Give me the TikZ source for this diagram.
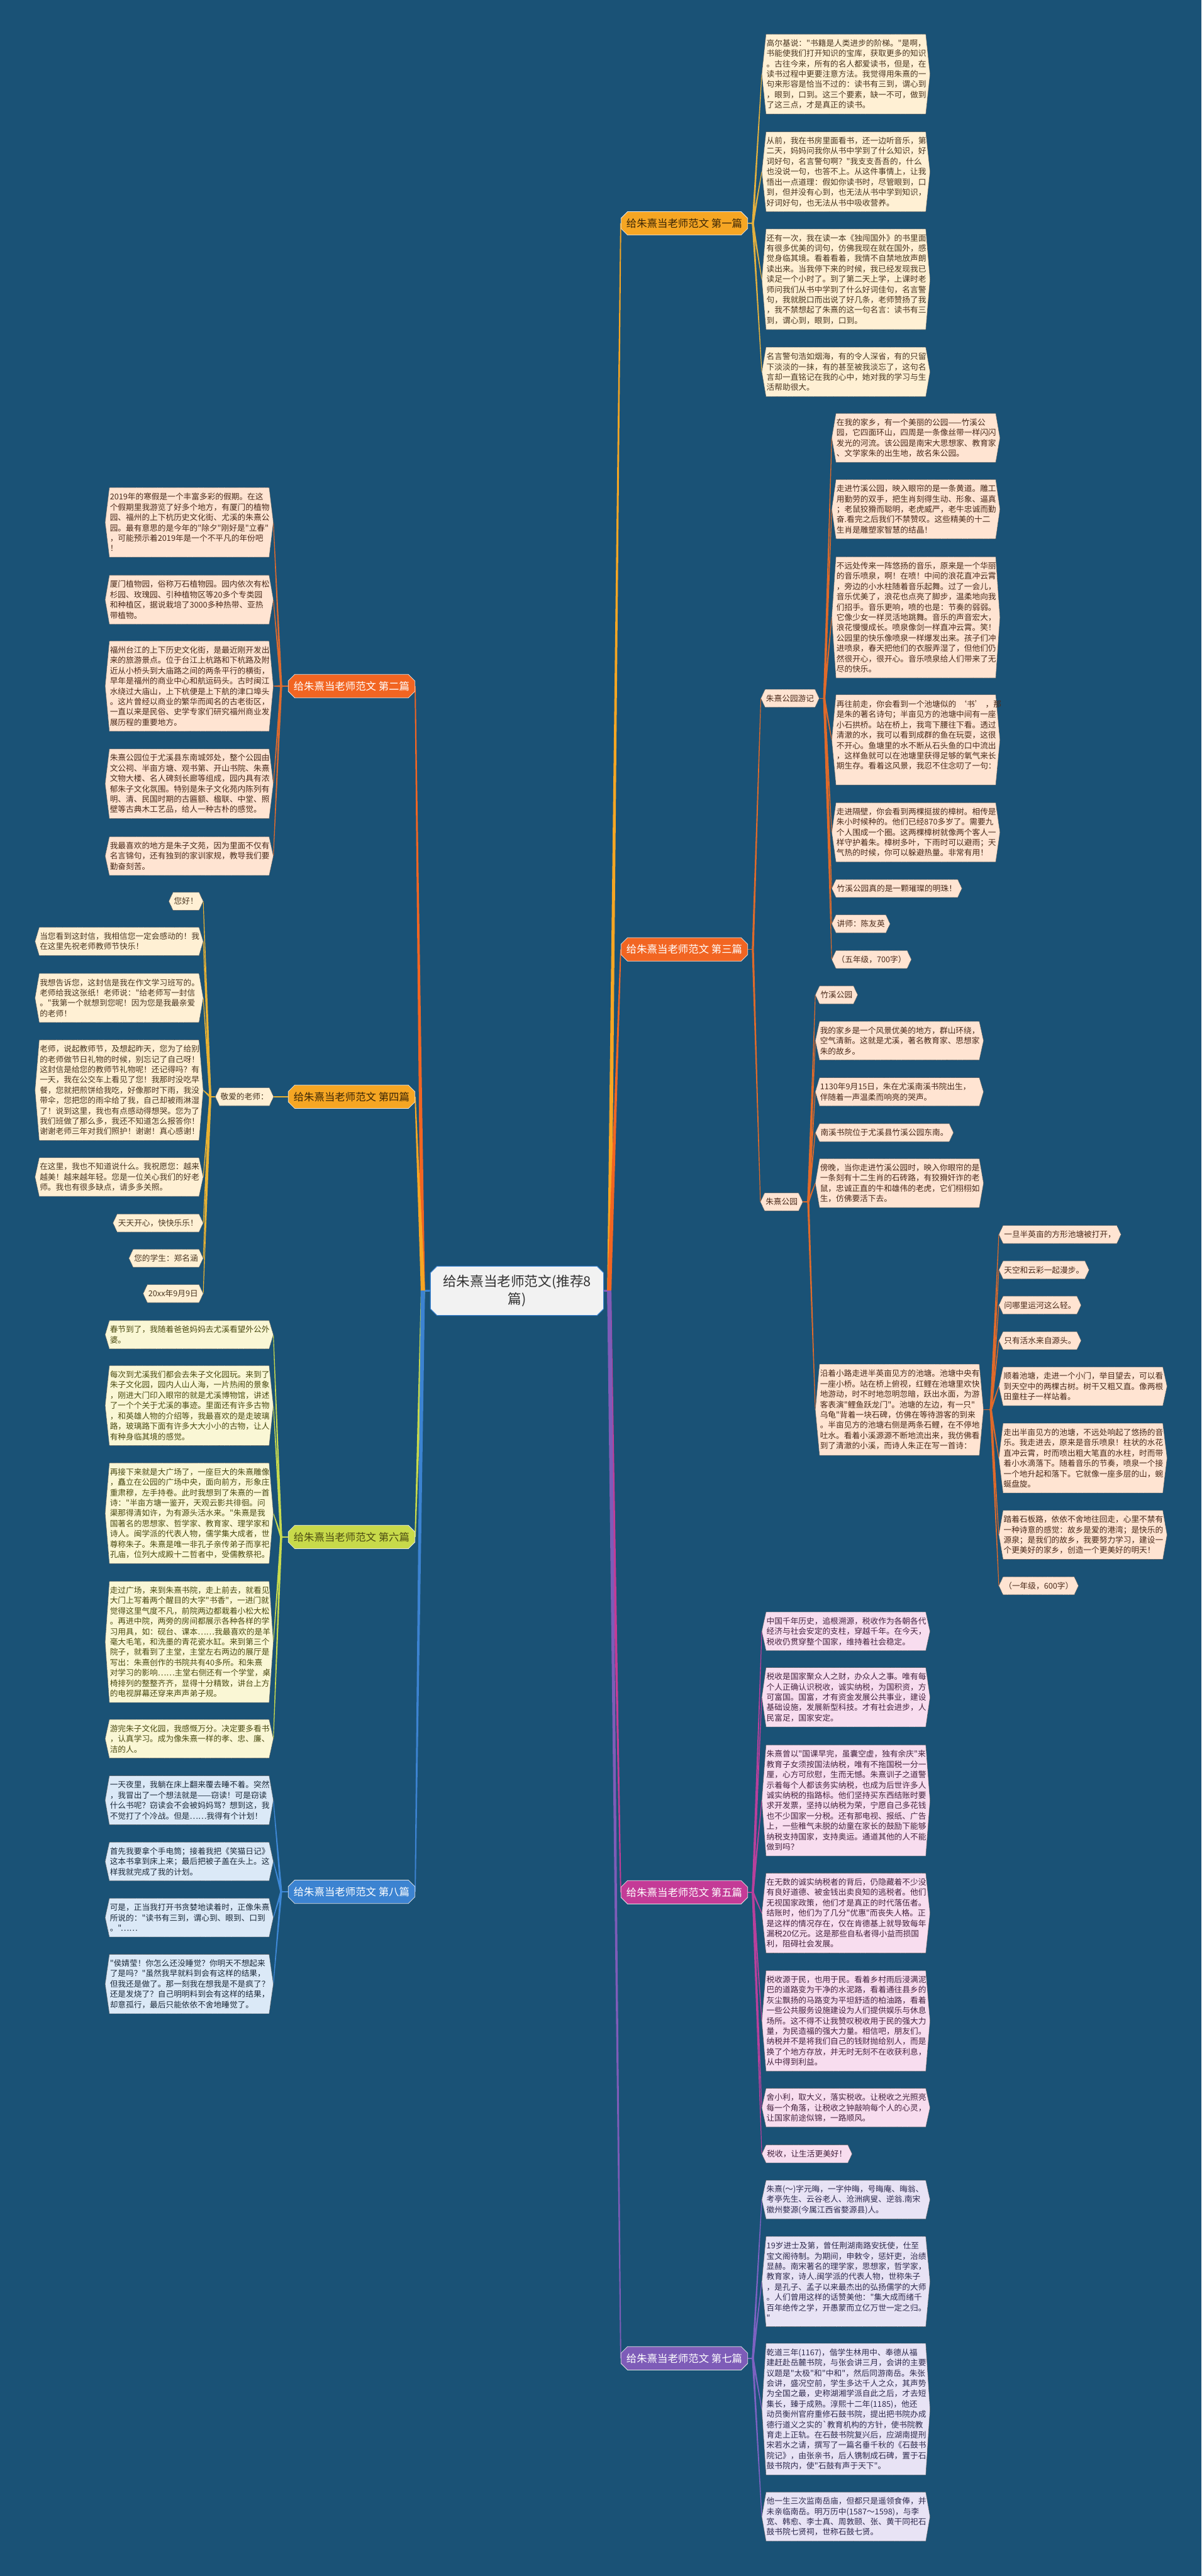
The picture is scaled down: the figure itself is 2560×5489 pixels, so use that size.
\documentclass[tikz,border=0pt]{standalone}
\usepackage{fontspec}
\newfontfamily\zh{Noto Sans CJK SC}
\usetikzlibrary{backgrounds,calc,shapes.misc}
\definecolor{bgc}{HTML}{1A5276}
\definecolor{amber}{HTML}{F6A623}
\definecolor{orng}{HTML}{F26522}
\definecolor{mag}{HTML}{C43B97}
\definecolor{ygrn}{HTML}{C8DA4A}
\definecolor{purp}{HTML}{7E5CB8}
\definecolor{blu}{HTML}{3C83D1}
\definecolor{ln1}{HTML}{E3B03E}
\definecolor{ln2}{HTML}{DD6A2E}
\definecolor{ln3}{HTML}{E06A2A}
\definecolor{ln4}{HTML}{E9B232}
\definecolor{ln5}{HTML}{B8409C}
\definecolor{ln6}{HTML}{C8DA4E}
\definecolor{ln7}{HTML}{7D62C2}
\definecolor{ln8}{HTML}{3E88D6}
\definecolor{fl1}{HTML}{FFF0D4}
\definecolor{fl2}{HTML}{FFE4D2}
\definecolor{fl5}{HTML}{F8DDEF}
\definecolor{fl6}{HTML}{FAF7D5}
\definecolor{fl7}{HTML}{E8E3F5}
\definecolor{fl8}{HTML}{DBE9F7}
\definecolor{tx1}{HTML}{4A3620}
\definecolor{tx2}{HTML}{4A2A1A}
\definecolor{tx5}{HTML}{45233F}
\definecolor{tx6}{HTML}{4B4B12}
\definecolor{tx7}{HTML}{2E2A4E}
\definecolor{tx8}{HTML}{1C2A3A}
\definecolor{edgec}{HTML}{555555}
\definecolor{ctrfill}{HTML}{F2F2F2}
\definecolor{brdark}{HTML}{3A2506}
\newcommand\tips[1]{\coordinate (#1-l) at ([xshift=-9pt]#1.west);\coordinate (#1-r) at ([xshift=9pt]#1.east);}
\newcommand\hexbox[2]{\filldraw[hexbase,#2] (#1.north west) -- (#1.north east) -- (#1-r) -- (#1.south east) -- (#1.south west) -- (#1-l) -- cycle;}
\newcommand\taper[5]{\fill[#5] ($(#1)!#3!90:(#2)$) -- ($(#2)!#4!-90:(#1)$) -- ($(#2)!#4!90:(#1)$) -- ($(#1)!#3!-90:(#2)$) -- cycle;}
\begin{document}
\begin{tikzpicture}[x=1pt,y=-1pt,
 leaf/.style={inner xsep=1pt, inner ysep=3pt, text width=338pt, align=left, font=\zh\fontsize{17}{22}\selectfont},
 tag/.style={inner xsep=2pt, inner ysep=3pt, minimum height=38pt, font=\zh\fontsize{17}{22}\selectfont},
 branch/.style={chamfered rectangle, chamfered rectangle xsep=7pt, chamfered rectangle ysep=7pt, minimum width=270pt, minimum height=50pt, inner sep=2pt, font=\zh\fontsize{22}{26}\selectfont, draw=white!80!gray, line width=1pt},
 ctrnode/.style={chamfered rectangle, chamfered rectangle xsep=7pt, chamfered rectangle ysep=7pt, minimum width=369pt, minimum height=105pt, inner sep=2pt, fill=ctrfill, draw=blu, line width=1.5pt, text width=345pt, align=center, font=\zh\fontsize{29}{38}\selectfont, text=black!80},
 hexbase/.style={draw=edgec, line width=0.9pt, dash pattern=on 1.6pt off 1pt},
 h1/.style={fill=fl1}, h2/.style={fill=fl2}, h5/.style={fill=fl5}, h6/.style={fill=fl6}, h7/.style={fill=fl7}, h8/.style={fill=fl8},
 sub/.style={line width=2pt}
]
\useasboundingbox (0,0) rectangle (2560,5489);
% center and branches
\node[ctrnode] (ctr) at (1101.5,2750.5) {给朱熹当老师范文(推荐8\\篇)};
\node[branch, fill=amber, text=brdark] (R1) at (1458,476) {给朱熹当老师范文 第一篇};
\node[branch, fill=orng, text=white] (R3) at (1458,2023) {给朱熹当老师范文 第三篇};
\node[branch, fill=mag, text=white] (R5) at (1458,4032) {给朱熹当老师范文 第五篇};
\node[branch, fill=purp, text=white] (R7) at (1458,5025) {给朱熹当老师范文 第七篇};
\node[branch, fill=orng, text=white] (L2) at (749,1462) {给朱熹当老师范文 第二篇};
\node[branch, fill=amber, text=brdark] (L4) at (749,2337) {给朱熹当老师范文 第四篇};
\node[branch, fill=ygrn, text=tx6] (L6) at (749,3275) {给朱熹当老师范文 第六篇};
\node[branch, fill=blu, text=white] (L8) at (749,4031) {给朱熹当老师范文 第八篇};
% section 1
\begin{scope}[every node/.append style={text=tx1}]
\node[leaf, anchor=west, minimum height=170pt] (a1) at (1632,158) {高尔基说："书籍是人类进步的阶梯。"是啊，\\书能使我们打开知识的宝库，获取更多的知识\\。古往今来，所有的名人都爱读书，但是，在\\读书过程中更要注意方法。我觉得用朱熹的一\\句来形容是恰当不过的：读书有三到，谓心到\\，眼到，口到。这三个要素，缺一不可，做到\\了这三点，才是真正的读书。};
\node[leaf, anchor=west, minimum height=170pt] (a2) at (1632,366) {从前，我在书房里面看书，还一边听音乐，第\\二天，妈妈问我你从书中学到了什么知识，好\\词好句，名言警句啊？"我支支吾吾的，什么\\也没说一句，也答不上。从这件事情上，让我\\悟出一点道理：假如你读书时，尽管眼到，口\\到，但并没有心到，也无法从书中学到知识，\\好词好句，也无法从书中吸收营养。};
\node[leaf, anchor=west, minimum height=214pt] (a3) at (1632,595) {还有一次，我在读一本《独闯国外》的书里面\\有很多优美的词句，仿佛我现在就在国外，感\\觉身临其境。看着看着，我情不自禁地放声朗\\读出来。当我停下来的时候，我已经发现我已\\读足一个小时了。到了第二天上学，上课时老\\师问我们从书中学到了什么好词佳句，名言警\\句，我就脱口而出说了好几条，老师赞扬了我\\，我不禁想起了朱熹的这一句名言：读书有三\\到，谓心到，眼到，口到。};
\node[leaf, anchor=west, minimum height=105pt] (a4) at (1632,792.5) {名言警句浩如烟海，有的令人深省，有的只留\\下淡淡的一抹，有的甚至被我淡忘了，这句名\\言却一直铭记在我的心中，她对我的学习与生\\活帮助很大。};
\end{scope}
% section 3
\begin{scope}[every node/.append style={text=tx2}]
\node[tag, anchor=west] (y1) at (1630,1488) {朱熹公园游记};
\node[leaf, anchor=west, minimum height=104pt] (b1) at (1781,933) {在我的家乡，有一个美丽的公园——竹溪公\\园，它四面环山，四周是一条像丝带一样闪闪\\发光的河流。该公园是南宋大思想家、教育家\\、文学家朱的出生地，故名朱公园。};
\node[leaf, anchor=west, minimum height=126pt] (b2) at (1781,1085) {走进竹溪公园，映入眼帘的是一条黄道。雕工\\用勤劳的双手，把生肖刻得生动、形象、逼真\\；老鼠狡猾而聪明，老虎威严，老牛忠诚而勤\\奋.看完之后我们不禁赞叹。这些精美的十二\\生肖是雕塑家智慧的结晶！};
\node[leaf, anchor=west, minimum height=258pt] (b3) at (1781,1315.5) {不远处传来一阵悠扬的音乐，原来是一个华丽\\的音乐喷泉，啊！在喷！中间的浪花直冲云霄\\，旁边的小水柱随着音乐起舞。过了一会儿，\\音乐优美了，浪花也点亮了脚步，温柔地向我\\们招手。音乐更响，喷的也是：节奏的弱弱。\\它像少女一样灵活地跳舞。音乐的声音宏大，\\浪花慢慢成长。喷泉像剑一样直冲云霄。笑！\\公园里的快乐像喷泉一样爆发出来。孩子们冲\\进喷泉，春天把他们的衣服弄湿了，但他们仍\\然很开心，很开心。音乐喷泉给人们带来了无\\尽的快乐。};
\node[leaf, anchor=west, minimum height=192pt] (b4) at (1781,1576.5) {再往前走，你会看到一个池塘似的~‘书’~，那\\是朱的著名诗句；半亩见方的池塘中间有一座\\小石拱桥。站在桥上，我弯下腰往下看。透过\\清澈的水，我可以看到成群的鱼在玩耍，这很\\不开心。鱼塘里的水不断从石头鱼的口中流出\\，这样鱼就可以在池塘里获得足够的氧气来长\\期生存。看着这风景，我忍不住念叨了一句：\\\mbox{}};
\node[leaf, anchor=west, minimum height=126pt] (b5) at (1781,1773.5) {走进隔壁，你会看到两棵挺拔的樟树。相传是\\朱小时候种的。他们已经870多岁了。需要九\\个人围成一个圈。这两棵樟树就像两个客人一\\样守护着朱。樟树多叶，下雨时可以避雨；天\\气热的时候，你可以躲避热量。非常有用！};
\node[tag, anchor=west] (b6) at (1781,1893) {竹溪公园真的是一颗璀璨的明珠！};
\node[tag, anchor=west] (b7) at (1781,1968.5) {讲师：陈友英};
\node[tag, anchor=west] (b8) at (1781,2044.5) {（五年级，700字）};
\node[tag, anchor=west] (y2) at (1629,2561) {朱熹公园};
\node[tag, anchor=west] (c1) at (1746,2120) {竹溪公园};
\node[leaf, anchor=west, minimum height=82pt] (c2) at (1746,2217.5) {我的家乡是一个风景优美的地方，群山环绕，\\空气清新。这就是尤溪，著名教育家、思想家\\朱的故乡。};
\node[leaf, anchor=west, minimum height=60pt] (c3) at (1746,2326.5) {1130年9月15日，朱在尤溪南溪书院出生，\\伴随着一声温柔而响亮的哭声。};
\node[tag, anchor=west] (c4) at (1746,2413.5) {南溪书院位于尤溪县竹溪公园东南。};
\node[leaf, anchor=west, minimum height=104pt] (c5) at (1746,2521) {傍晚，当你走进竹溪公园时，映入你眼帘的是\\一条刻有十二生肖的石砖路，有狡猾奸诈的老\\鼠，忠诚正直的牛和雄伟的老虎，它们栩栩如\\生，仿佛要活下去。};
\node[leaf, anchor=west, minimum height=194pt] (c6) at (1746,3004) {沿着小路走进半英亩见方的池塘。池塘中央有\\一座小桥。站在桥上俯视，红鲤在池塘里欢快\\地游动，时不时地忽明忽暗，跃出水面，为游\\客表演"鲤鱼跃龙门"。池塘的左边，有一只"\\乌龟"背着一块石碑，仿佛在等待游客的到来\\。半亩见方的池塘右侧是两条石鲤，在不停地\\吐水。看着小溪源源不断地流出来，我仿佛看\\到了清澈的小溪，而诗人朱正在写一首诗：};
\node[tag, anchor=west] (d1) at (2137,2630.5) {一旦半英亩的方形池塘被打开，};
\node[tag, anchor=west] (d2) at (2137,2706) {天空和云彩一起漫步。};
\node[tag, anchor=west] (d3) at (2137,2781) {问哪里运河这么轻。};
\node[tag, anchor=west] (d4) at (2137,2856.5) {只有活水来自源头。};
\node[leaf, anchor=west, minimum height=82pt] (d5) at (2137,2954) {顺着池塘，走进一个小门，举目望去，可以看\\到天空中的两棵古树。树干又粗又直。像两根\\田童柱子一样站着。};
\node[leaf, anchor=west, minimum height=148pt] (d6) at (2137,3107) {走出半亩见方的池塘，不远处响起了悠扬的音\\乐。我走进去，原来是音乐喷泉！柱状的水花\\直冲云霄，时而喷出粗大笔直的水柱，时而带\\着小水滴落下。随着音乐的节奏，喷泉一个接\\一个地升起和落下。它就像一座多层的山，蜿\\蜒盘旋。};
\node[leaf, anchor=west, minimum height=104pt] (d7) at (2137,3270.5) {踏着石板路，依依不舍地往回走，心里不禁有\\一种诗意的感觉：故乡是爱的港湾；是快乐的\\源泉；是我们的故乡，我要努力学习，建设一\\个更美好的家乡，创造一个更美好的明天！};
\node[tag, anchor=west] (d8) at (2137,3379) {（一年级，600字）};
\end{scope}
% section 5
\begin{scope}[every node/.append style={text=tx5}]
\node[leaf, anchor=west, minimum height=82pt] (e1) at (1632,3476) {中国千年历史，追根溯源，税收作为各朝各代\\经济与社会安定的支柱，穿越千年。在今天，\\税收仍贯穿整个国家，维持着社会稳定。};
\node[leaf, anchor=west, minimum height=126pt] (e2) at (1632,3616.5) {税收是国家聚众人之财，办众人之事。唯有每\\个人正确认识税收，诚实纳税，为国积资，方\\可富国。国富，才有资金发展公共事业，建设\\基础设施，发展新型科技。才有社会进步，人\\民富足，国家安定。};
\node[leaf, anchor=west, minimum height=236pt] (e3) at (1632,3836.5) {朱熹曾以"国课早完，虽囊空虚，独有余庆"来\\教育子女须按国法纳税，唯有不拖国税一分一\\厘，心方可欣慰，生而无憾。朱熹训子之道警\\示着每个人都该务实纳税，也成为后世许多人\\诚实纳税的指路标。他们坚持买东西结账时要\\求开发票，坚持以纳税为荣，宁愿自己多花钱\\也不少国家一分税。还有那电视、报纸、广告\\上，一些稚气未脱的幼童在家长的鼓励下能够\\纳税支持国家，支持奥运。通道其他的人不能\\做到吗？};
\node[leaf, anchor=west, minimum height=170pt] (e4) at (1632,4076.5) {在无数的诚实纳税者的背后，仍隐藏着不少没\\有良好道德、被金钱出卖良知的逃税者。他们\\无视国家政策，他们才是真正的时代落伍者。\\结账时，他们为了几分"优惠"而丧失人格。正\\是这样的情况存在，仅在肯德基上就导致每年\\漏税20亿元。这是那些自私者得小益而损国\\利，阻碍社会发展。};
\node[leaf, anchor=west, minimum height=214pt] (e5) at (1632,4306) {税收源于民，也用于民。看着乡村雨后浸满泥\\巴的道路变为干净的水泥路，看着通往县乡的\\灰尘飘扬的马路变为平坦舒适的柏油路，看着\\一些公共服务设施建设为人们提供娱乐与休息\\场所。这不得不让我赞叹税收用于民的强大力\\量，为民造福的强大力量。相信吧，朋友们。\\纳税并不是将我们自己的钱财抛给别人，而是\\换了个地方存放，并无时无刻不在收获利息，\\从中得到利益。};
\node[leaf, anchor=west, minimum height=82pt] (e6) at (1632,4491) {舍小利，取大义，落实税收。让税收之光照亮\\每一个角落，让税收之钟敲响每个人的心灵，\\让国家前途似锦，一路顺风。};
\node[tag, anchor=west] (e7) at (1632,4589.5) {税收，让生活更美好！};
\end{scope}
% section 7
\begin{scope}[every node/.append style={text=tx7}]
\node[leaf, anchor=west, minimum height=82pt] (f1) at (1632,4687) {朱熹(～)字元晦，一字仲晦，号晦庵、晦翁、\\考亭先生、云谷老人、沧洲病叟、逆翁.南宋\\徽州婺源(今属江西省婺源县)人。};
\node[leaf, anchor=west, minimum height=192pt] (f2) at (1632,4861.5) {19岁进士及第，曾任荆湖南路安抚使，仕至\\宝文阁待制。为期间，申敕令，惩奸吏，治绩\\显赫。南宋著名的理学家，思想家，哲学家，\\教育家，诗人.闽学派的代表人物，世称朱子\\，是孔子、孟子以来最杰出的弘扬儒学的大师\\。人们曾用这样的话赞美他："集大成而绪千\\百年绝传之学，开愚蒙而立亿万世一定之归。\\"};
\node[leaf, anchor=west, minimum height=280pt] (f3) at (1632,5133.5) {乾道三年(1167)，偕学生林用中、奉德从福\\建赶赴岳麓书院，与张会讲三月，会讲的主要\\议题是"太极"和"中和"，然后同游南岳。朱张\\会讲，盛况空前，学生多达千人之众，其声势\\为全国之最，史称湖湘学派自此之后，才去短\\集长，臻于成熟。淳熙十二年(1185)，他还\\动员衡州官府重修石鼓书院，提出把书院办成\\德行道义之实的\symbol{96}教育机构的方针，使书院教\\育走上正轨。在石鼓书院复兴后，应湖南提刑\\宋若水之请，撰写了一篇名垂千秋的《石鼓书\\院记》，由张亲书，后人镌制成石碑，置于石\\鼓书院内，使"石鼓有声于天下"。};
\node[leaf, anchor=west, minimum height=104pt] (f4) at (1632,5362.5) {他一生三次监南岳庙，但都只是遥领食俸，并\\未亲临南岳。明万历中(1587～1598)，与李\\宽、韩愈、李士真、周敦颐、张、黄干同祀石\\鼓书院七贤祠，世称石鼓七贤。};
\end{scope}
% section 2
\begin{scope}[every node/.append style={text=tx2}]
\node[leaf, anchor=west, minimum height=148pt] (g1) at (233,1113) {2019年的寒假是一个丰富多彩的假期。在这\\个假期里我游览了好多个地方，有厦门的植物\\园、福州的上下杭历史文化街、尤溪的朱熹公\\园。最有意思的是今年的"除夕"刚好是"立春"\\，可能预示着2019年是一个不平凡的年份吧\\！};
\node[leaf, anchor=west, minimum height=104pt] (g2) at (233,1278) {厦门植物园，俗称万石植物园。园内依次有松\\杉园、玫瑰园、引种植物区等20多个专类园\\和种植区，据说栽培了3000多种热带、亚热\\带植物。};
\node[leaf, anchor=west, minimum height=192pt] (g3) at (233,1462) {福州台江的上下历史文化街，是最近刚开发出\\来的旅游景点。位于台江上杭路和下杭路及附\\近从小桥头到大庙路之间的两条平行的横街，\\早年是福州的商业中心和航运码头。古时闽江\\水绕过大庙山，上下杭便是上下航的津口埠头\\。这片曾经以商业的繁华而闻名的古老街区，\\一直以来是民俗、史学专家们研究福州商业发\\展历程的重要地方。};
\node[leaf, anchor=west, minimum height=148pt] (g4) at (233,1670) {朱熹公园位于尤溪县东南城郊处，整个公园由\\文公祠、半亩方塘、观书第、开山书院、朱熹\\文物大楼、名人碑刻长廊等组成，园内具有浓\\郁朱子文化氛围。特别是朱子文化苑内陈列有\\明、清、民国时期的古匾额、楹联、中堂、照\\壁等古典木工艺品，给人一种古朴的感觉。};
\node[leaf, anchor=west, minimum height=82pt] (g5) at (233,1824) {我最喜欢的地方是朱子文苑，因为里面不仅有\\名言锦句，还有独到的家训家规，教导我们要\\勤奋刻苦。};
\end{scope}
% section 4
\begin{scope}[every node/.append style={text=tx1}]
\node[tag, anchor=east] (k) at (574,2337) {敬爱的老师：};
\node[tag, anchor=east] (h1) at (424,1920.5) {您好！};
\node[leaf, anchor=east, minimum height=60pt] (h2) at (424,2006) {当您看到这封信，我相信您一定会感动的！我\\在这里先祝老师教师节快乐！};
\node[leaf, anchor=east, minimum height=104pt] (h3) at (424,2126.5) {我想告诉您，这封信是我在作文学习班写的。\\老师给我这张纸！老师说："给老师写一封信\\。"我第一个就想到您呢！因为您是我最亲爱\\的老师！};
\node[leaf, anchor=east, minimum height=214pt] (h4) at (424,2323) {老师，说起教师节，及想起昨天，您为了给别\\的老师做节日礼物的时候，别忘记了自己呀！\\这封信是给您的教师节礼物呢！还记得吗？有\\一天，我在公交车上看见了您！我那时没吃早\\餐，您就把煎饼给我吃，好像那时下雨，我没\\带伞，您把您的雨伞给了我，自己却被雨淋湿\\了！说到这里，我也有点感动得想哭。您为了\\我们班做了那么多，我还不知道怎么报答你！\\谢谢老师三年对我们照护！谢谢！真心感谢！};
\node[leaf, anchor=east, minimum height=82pt] (h5) at (424,2508) {在这里，我也不知道说什么。我祝愿您：越来\\越美！越来越年轻。您是一位关心我们的好老\\师。我也有很多缺点，请多多关照。};
\node[tag, anchor=east] (h6) at (424,2606) {天天开心，快快乐乐！};
\node[tag, anchor=east] (h7) at (424,2681) {您的学生：郑名涵};
\node[tag, anchor=east] (h8) at (424,2756.5) {20xx年9月9日};
\end{scope}
% section 6
\begin{scope}[every node/.append style={text=tx6}]
\node[leaf, anchor=west, minimum height=60pt] (i1) at (233,2844) {春节到了，我随着爸爸妈妈去尤溪看望外公外\\婆。};
\node[leaf, anchor=west, minimum height=170pt] (i2) at (233,2995) {每次到尤溪我们都会去朱子文化园玩。来到了\\朱子文化园，园内人山人海，一片热闹的景象\\，刚进大门印入眼帘的就是尤溪博物馆，讲述\\了一个个关于尤溪的事迹。里面还有许多古物\\，和英雄人物的介绍等，我最喜欢的是走玻璃\\路，玻璃路下面有许多大大小小的古物，让人\\有种身临其境的感觉。};
\node[leaf, anchor=west, minimum height=214pt] (i3) at (233,3224.5) {再接下来就是大广场了，一座巨大的朱熹雕像\\，矗立在公园的广场中央，面向前方，形象庄\\重肃穆，左手持卷。此时我想到了朱熹的一首\\诗："半亩方塘一鉴开，天观云影共徘徊。问\\渠那得清如许，为有源头活水来。"朱熹是我\\国著名的思想家、哲学家、教育家、理学家和\\诗人。闽学派的代表人物，儒学集大成者，世\\尊称朱子。朱熹是唯一非孔子亲传弟子而享祀\\孔庙，位列大成殿十二哲者中，受儒教祭祀。};
\node[leaf, anchor=west, minimum height=258pt] (i4) at (233,3498.5) {走过广场，来到朱熹书院，走上前去，就看见\\大门上写着两个醒目的大字"书香"，一进门就\\觉得这里气度不凡，前院两边都栽着小松大松\\。再进中院，两旁的房间都展示各种各样的学\\习用具，如：砚台、课本……我最喜欢的是羊\\毫大毛笔，和洗墨的青花瓷水缸。来到第三个\\院子，就看到了主堂，主堂左右两边的展厅是\\写出：朱熹创作的书院共有40多所。和朱熹\\对学习的影响……主堂右侧还有一个学堂，桌\\椅排列的整整齐齐，显得十分精致，讲台上方\\的电视屏幕还穿来声声弟子规。};
\node[leaf, anchor=west, minimum height=82pt] (i5) at (233,3705) {游完朱子文化园，我感慨万分。决定要多看书\\，认真学习。成为像朱熹一样的孝、忠、廉、\\洁的人。};
\end{scope}
% section 8
\begin{scope}[every node/.append style={text=tx8}]
\node[leaf, anchor=west, minimum height=104pt] (m1) at (233,3836) {一天夜里，我躺在床上翻来覆去睡不着。突然\\，我冒出了一个想法就是——窃读！可是窃读\\什么书呢？窃读会不会被妈妈骂？想到这，我\\不觉打了个冷战。但是……我得有个计划！};
\node[leaf, anchor=west, minimum height=82pt] (m2) at (233,3966.5) {首先我要拿个手电筒；接着我把《笑猫日记》\\这本书拿到床上来；最后把被子盖在头上。这\\样我就完成了我的计划。};
\node[leaf, anchor=west, minimum height=82pt] (m3) at (233,4086) {可是，正当我打开书贪婪地读着时，正像朱熹\\所说的："读书有三到，谓心到、眼到、口到\\。"……};
\node[leaf, anchor=west, minimum height=126pt] (m4) at (233,4227.5) {"侯婧莹！你怎么还没睡觉？你明天不想起来\\了是吗？"虽然我早就料到会有这样的结果，\\但我还是做了。那一刻我在想我是不是疯了？\\还是发烧了？自己明明料到会有这样的结果，\\却意孤行，最后只能依依不舍地睡觉了。};
\end{scope}
% tips and junctions
\foreach \n in {a1,a2,a3,a4,b1,b2,b3,b4,b5,b6,b7,b8,c1,c2,c3,c4,c5,c6,d1,d2,d3,d4,d5,d6,d7,d8,e1,e2,e3,e4,e5,e6,e7,f1,f2,f3,f4,g1,g2,g3,g4,g5,h1,h2,h3,h4,h5,h6,h7,h8,i1,i2,i3,i4,i5,m1,m2,m3,m4,y1,y2,k} {\tips{\n}}
\coordinate (cR) at (1298,2750);
\coordinate (cL) at (901,2750);
\coordinate (JR1) at (1604,476);
\coordinate (JR3) at (1604,2023);
\coordinate (JR5) at (1604,4032);
\coordinate (JR7) at (1604,5025);
\coordinate (JY1) at (1756,1488);
\coordinate (JY2) at (1722,2561);
\coordinate (JC6) at (2111,3004);
\coordinate (JL2) at (599,1462);
\coordinate (JK) at (448,2337);
\coordinate (JL6) at (599,3275);
\coordinate (JL8) at (599,4031);
\begin{scope}[on background layer]
\fill[bgc] (0,0) rectangle (2560,5489);
% main connectors
\draw[line width=4pt, purp] (ctr.east) -- (cR);
\draw[line width=4pt, blu] (ctr.west) -- (cL);
\taper{cR}{R1.west}{4.5pt}{1.2pt}{amber}
\taper{cR}{R3.west}{4.5pt}{1.2pt}{orng}
\taper{cR}{R5.west}{4.5pt}{1.2pt}{mag}
\taper{cR}{R7.west}{4.5pt}{1.2pt}{purp}
\taper{cL}{L2.east}{4.5pt}{1.2pt}{orng}
\taper{cL}{L4.east}{4.5pt}{1.2pt}{amber}
\taper{cL}{L6.east}{4.5pt}{1.2pt}{ygrn}
\taper{cL}{L8.east}{4.5pt}{1.2pt}{blu}
% section connectors
\draw[sub, ln1] (R1.east) -- (JR1);
\foreach \n in {a1,a2,a3,a4} {\taper{JR1}{\n-l}{2.2pt}{0.7pt}{ln1}}
\draw[sub, ln3] (R3.east) -- (JR3);
\foreach \n in {y1,y2} {\taper{JR3}{\n-l}{2.2pt}{0.7pt}{ln3}}
\draw[sub, ln3] (y1-r) -- (JY1);
\foreach \n in {b1,b2,b3,b4,b5,b6,b7,b8} {\taper{JY1}{\n-l}{2.2pt}{0.7pt}{ln3}}
\draw[sub, ln3] (y2-r) -- (JY2);
\foreach \n in {c1,c2,c3,c4,c5,c6} {\taper{JY2}{\n-l}{2.2pt}{0.7pt}{ln3}}
\draw[sub, ln3] (c6-r) -- (JC6);
\foreach \n in {d1,d2,d3,d4,d5,d6,d7,d8} {\taper{JC6}{\n-l}{2.2pt}{0.7pt}{ln3}}
\draw[sub, ln5] (R5.east) -- (JR5);
\foreach \n in {e1,e2,e3,e4,e5,e6,e7} {\taper{JR5}{\n-l}{2.2pt}{0.7pt}{ln5}}
\draw[sub, ln7] (R7.east) -- (JR7);
\foreach \n in {f1,f2,f3,f4} {\taper{JR7}{\n-l}{2.2pt}{0.7pt}{ln7}}
\draw[sub, ln2] (L2.west) -- (JL2);
\foreach \n in {g1,g2,g3,g4,g5} {\taper{JL2}{\n-r}{2.2pt}{0.7pt}{ln2}}
\draw[sub, ln4] (L4.west) -- (k-r);
\draw[sub, ln4] (k-l) -- (JK);
\foreach \n in {h1,h2,h3,h4,h5,h6,h7,h8} {\taper{JK}{\n-r}{2.2pt}{0.7pt}{ln4}}
\draw[sub, ln6] (L6.west) -- (JL6);
\foreach \n in {i1,i2,i3,i4,i5} {\taper{JL6}{\n-r}{2.2pt}{0.7pt}{ln6}}
\draw[sub, ln8] (L8.west) -- (JL8);
\foreach \n in {m1,m2,m3,m4} {\taper{JL8}{\n-r}{2.2pt}{0.7pt}{ln8}}
% hex boxes
\foreach \n in {a1,a2,a3,a4,h1,h2,h3,h4,h5,h6,h7,h8,k} {\hexbox{\n}{h1}}
\foreach \n in {b1,b2,b3,b4,b5,b6,b7,b8,c1,c2,c3,c4,c5,c6,d1,d2,d3,d4,d5,d6,d7,d8,y1,y2,g1,g2,g3,g4,g5} {\hexbox{\n}{h2}}
\foreach \n in {e1,e2,e3,e4,e5,e6,e7} {\hexbox{\n}{h5}}
\foreach \n in {i1,i2,i3,i4,i5} {\hexbox{\n}{h6}}
\foreach \n in {f1,f2,f3,f4} {\hexbox{\n}{h7}}
\foreach \n in {m1,m2,m3,m4} {\hexbox{\n}{h8}}
\end{scope}
\end{tikzpicture}
\end{document}
